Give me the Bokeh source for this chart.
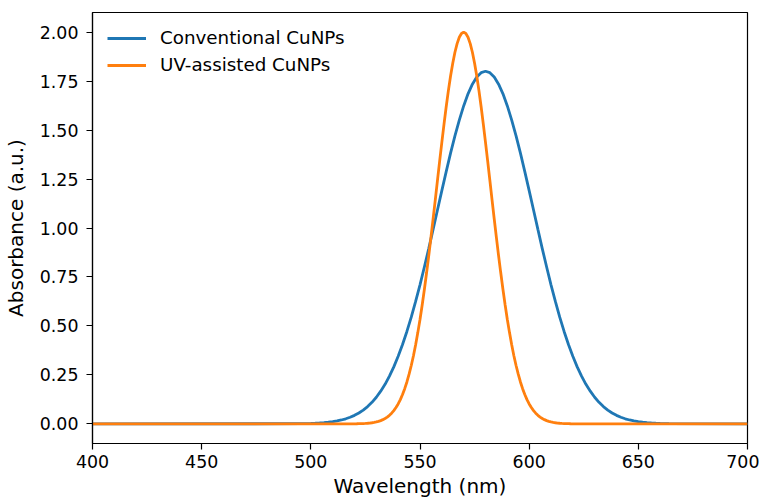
from bokeh.plotting import figure
from bokeh.models import Range1d, FixedTicker, NumeralTickFormatter, Legend, LegendItem
from bokeh.embed import file_html
from bokeh.resources import INLINE

# Conventional CuNPs
wl_conv = [400,
           496, 498, 500, 502, 504, 506, 508, 510, 512, 514, 516, 518, 520, 522, 524, 526,
           528, 530, 532, 534, 536, 538, 540, 542, 544, 546, 548, 550, 552, 554, 556, 558,
           560, 562, 564, 566, 568, 570, 572, 574, 576, 578, 580, 582, 584, 586, 588, 590,
           592, 594, 596, 598, 600, 602, 604, 606, 608, 610, 612, 614, 616, 618, 620, 622,
           624, 626, 628, 630, 632, 634, 636, 638, 640, 642, 644, 646, 648, 650, 652, 654,
           656, 658, 660, 662, 664,
           700]
abs_conv = [0.0,
            0.0012, 0.0017, 0.0024, 0.0034, 0.0046, 0.0063, 0.0085, 0.0114, 0.0152, 0.0200,
            0.0262, 0.0339, 0.0437, 0.0557, 0.0706, 0.0885, 0.110, 0.136, 0.167, 0.202,
            0.244, 0.291, 0.345, 0.405, 0.472, 0.545, 0.625, 0.710, 0.801, 0.895, 0.993,
            1.092, 1.191, 1.288, 1.382, 1.470, 1.551, 1.623, 1.685, 1.734, 1.771, 1.793,
            1.800,
            1.793, 1.771, 1.734, 1.685, 1.623, 1.551, 1.470, 1.382, 1.288, 1.191, 1.092,
            0.993, 0.895, 0.801, 0.710, 0.625, 0.545, 0.472, 0.405, 0.345, 0.291, 0.244,
            0.202, 0.167, 0.136, 0.110, 0.0885, 0.0706, 0.0557, 0.0437, 0.0339, 0.0262,
            0.0200, 0.0152, 0.0114, 0.0085, 0.0063, 0.0046, 0.0034, 0.0024, 0.0017, 0.0012,
            0.0]

# UV-assisted CuNPs
wl_uv = [400,
         520, 521, 522, 523, 524, 525, 526, 527, 528, 529, 530, 531, 532, 533, 534, 535,
         536, 537, 538, 539, 540, 541, 542, 543, 544, 545, 546, 547, 548, 549, 550, 551,
         552, 553, 554, 555, 556, 557, 558, 559, 560, 561, 562, 563, 564, 565, 566, 567,
         568, 569, 570, 571, 572, 573, 574, 575, 576, 577, 578, 579, 580, 581, 582, 583,
         584, 585, 586, 587, 588, 589, 590, 591, 592, 593, 594, 595, 596, 597, 598, 599,
         600, 601, 602, 603, 604, 605, 606, 607, 608, 609, 610, 611, 612, 613, 614, 615,
         616, 617, 618, 619, 620,
         700]
abs_uv = [0.0,
          0.0005, 0.0007, 0.0010, 0.0013, 0.0018, 0.0025, 0.0033, 0.0044, 0.0059, 0.0077,
          0.0101, 0.0131, 0.0169, 0.0217, 0.0276, 0.0349, 0.0438, 0.0547, 0.0678, 0.0835,
          0.102, 0.124, 0.150, 0.180, 0.214, 0.254, 0.298, 0.348, 0.404, 0.466, 0.533,
          0.607, 0.686, 0.770, 0.858, 0.951, 1.046, 1.144, 1.243, 1.341, 1.437, 1.530,
          1.619, 1.701, 1.776, 1.841, 1.897, 1.941, 1.974, 1.993,
          2.000,
          1.993, 1.974, 1.941, 1.897, 1.841, 1.776, 1.701, 1.619, 1.530, 1.437, 1.341,
          1.243, 1.144, 1.046, 0.951, 0.858, 0.770, 0.686, 0.607, 0.533, 0.466, 0.404,
          0.348, 0.298, 0.254, 0.214, 0.180, 0.150, 0.124, 0.102, 0.0835, 0.0678, 0.0547,
          0.0438, 0.0349, 0.0276, 0.0217, 0.0169, 0.0131, 0.0101, 0.0077, 0.0059, 0.0044,
          0.0033, 0.0025, 0.0018, 0.0013, 0.0010, 0.0007, 0.0005,
          0.0]

x_ticks = [400, 450, 500, 550, 600, 650, 700]
y_ticks = [0.0, 0.25, 0.5, 0.75, 1.0, 1.25, 1.5, 1.75, 2.0]

FONT = "DejaVu Sans"

p = figure(frame_width=655, frame_height=431, output_backend="svg", toolbar_location=None,
           x_range=Range1d(400, 700), y_range=Range1d(-0.1, 2.1),
           min_border_left=92, min_border_right=12, min_border_top=12, min_border_bottom=45)

r1 = p.line(wl_conv, abs_conv, line_color="#1f77b4", line_width=2.8)
r2 = p.line(wl_uv, abs_uv, line_color="#ff7f0e", line_width=2.8)

p.xgrid.visible = False
p.ygrid.visible = False
p.outline_line_color = "black"
p.outline_line_width = 1.2
p.outline_line_alpha = 1.0
p.background_fill_color = "white"
p.border_fill_color = "white"

for ax in (p.xaxis[0], p.yaxis[0]):
    ax.axis_line_color = "black"
    ax.axis_line_width = 1.2
    ax.major_tick_line_color = "black"
    ax.major_tick_line_width = 1.2
    ax.major_tick_in = 0
    ax.major_tick_out = 6
    ax.minor_tick_line_color = None
    ax.major_label_text_font = FONT
    ax.major_label_text_font_size = "17.4px"
    ax.major_label_text_color = "black"
    ax.axis_label_text_font = FONT
    ax.axis_label_text_font_size = "20px"
    ax.axis_label_text_font_style = "normal"
    ax.axis_label_text_color = "black"

p.xaxis.ticker = FixedTicker(ticks=x_ticks)
p.yaxis.ticker = FixedTicker(ticks=y_ticks)
p.yaxis.formatter = NumeralTickFormatter(format="0.00")
p.xaxis.axis_label = "Wavelength (nm)"
p.yaxis.axis_label = "Absorbance (a.u.)"
p.xaxis.major_label_standoff = 5
p.yaxis.major_label_standoff = 8
p.xaxis.axis_label_standoff = 3
p.yaxis.axis_label_standoff = 9

legend = Legend(items=[LegendItem(label="Conventional CuNPs", renderers=[r1]),
                       LegendItem(label="UV-assisted CuNPs", renderers=[r2])],
                location="top_left")
legend.border_line_color = None
legend.background_fill_alpha = 0.0
legend.margin = 15
legend.padding = 8
legend.glyph_width = 39
legend.glyph_height = 20
legend.label_height = 20
legend.spacing = 6
legend.label_standoff = 14
legend.label_text_font = FONT
legend.label_text_font_size = "18.3px"
legend.label_text_color = "black"
p.add_layout(legend, "center")

open("out.html", "w").write(file_html(p, INLINE))
